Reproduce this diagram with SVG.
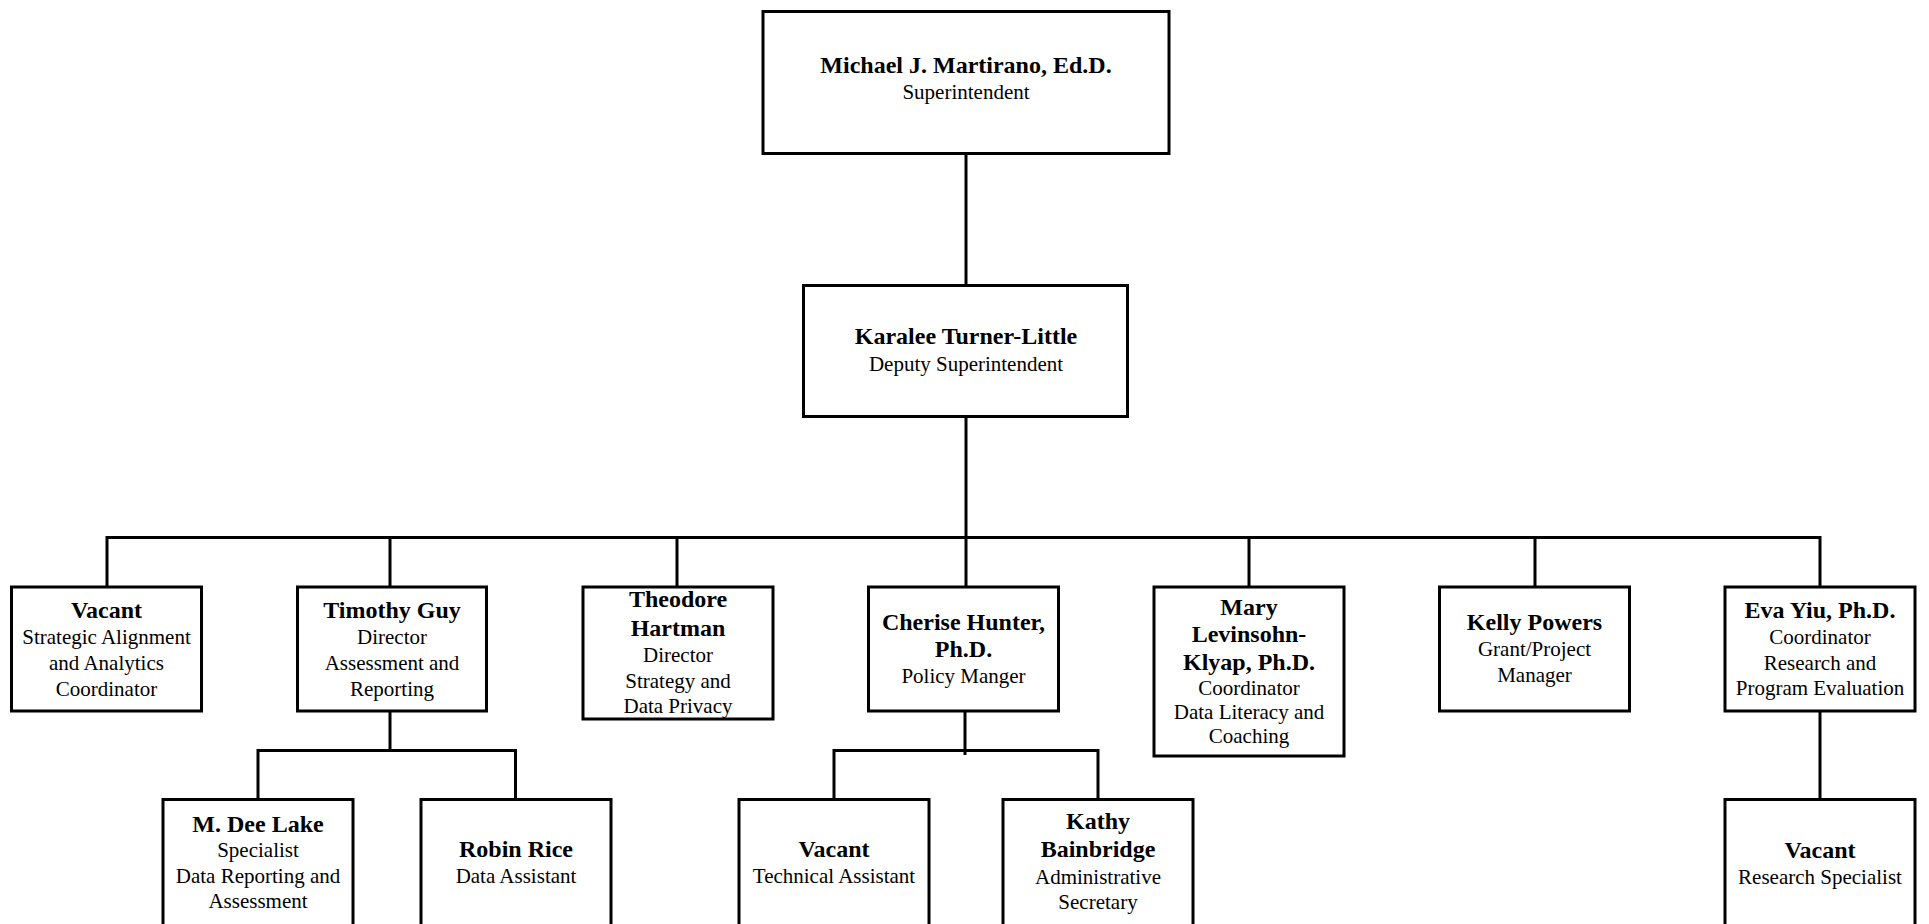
<svg xmlns="http://www.w3.org/2000/svg" width="1929" height="924" viewBox="0 0 1929 924">
<style>
.box{fill:#fff;stroke:#000;stroke-width:3}
.ln{fill:none;stroke:#000;stroke-width:3}
text{font-family:"Liberation Serif","Times New Roman",serif;text-anchor:middle;fill:#000}
.b{font-weight:bold;font-size:24px}
.r{font-size:21px}
</style>
<rect width="1929" height="924" fill="#fff"/>
<g id="connectors">
<path class="ln" d="M966,154V285"/>
<path class="ln" d="M966,417V537.5"/>
<path class="ln" d="M107,587V537.5H1820V587"/>
<path class="ln" d="M390,537.5V587M677,537.5V587M966,537.5V587M1249,537.5V587M1535,537.5V587"/>
<path class="ln" d="M390,711V750.5"/>
<path class="ln" d="M258,800V750.5H515.5V800"/>
<path class="ln" d="M965,711V755"/>
<path class="ln" d="M834,800V750.5H1098V800"/>
<path class="ln" d="M1820,711V800"/>
</g>
<g id="n-martirano">
<rect class="box" x="763" y="11.5" width="406" height="142"/>
<text class="b" x="966" y="73">Michael J. Martirano, Ed.D.</text>
<text class="r" x="966" y="99">Superintendent</text>
</g>
<g id="n-turner-little">
<rect class="box" x="803.5" y="285.5" width="324" height="131"/>
<text class="b" x="966" y="344">Karalee Turner-Little</text>
<text class="r" x="966" y="371">Deputy Superintendent</text>
</g>
<g id="n-vacant-saa">
<rect class="box" x="11.5" y="587" width="190" height="124"/>
<text class="b" x="106.5" y="618">Vacant</text>
<text class="r" x="106.5" y="644">Strategic Alignment</text>
<text class="r" x="106.5" y="670">and Analytics</text>
<text class="r" x="106.5" y="696">Coordinator</text>
</g>
<g id="n-guy">
<rect class="box" x="297.5" y="587" width="189" height="124"/>
<text class="b" x="392" y="618">Timothy Guy</text>
<text class="r" x="392" y="644">Director</text>
<text class="r" x="392" y="670">Assessment and</text>
<text class="r" x="392" y="696">Reporting</text>
</g>
<g id="n-hartman">
<rect class="box" x="583" y="587" width="190" height="132"/>
<text class="b" x="678" y="607">Theodore</text>
<text class="b" x="678" y="636">Hartman</text>
<text class="r" x="678" y="662">Director</text>
<text class="r" x="678" y="687.5">Strategy and</text>
<text class="r" x="678" y="713">Data Privacy</text>
</g>
<g id="n-hunter">
<rect class="box" x="868.5" y="587" width="190" height="124"/>
<text class="b" x="963.5" y="630">Cherise Hunter,</text>
<text class="b" x="963.5" y="657">Ph.D.</text>
<text class="r" x="963.5" y="683">Policy Manger</text>
</g>
<g id="n-levinsohn-klyap">
<rect class="box" x="1154" y="587" width="190" height="169"/>
<text class="b" x="1249" y="615">Mary</text>
<text class="b" x="1249" y="642">Levinsohn-</text>
<text class="b" x="1249" y="670">Klyap, Ph.D.</text>
<text class="r" x="1249" y="695">Coordinator</text>
<text class="r" x="1249" y="719">Data Literacy and</text>
<text class="r" x="1249" y="743">Coaching</text>
</g>
<g id="n-powers">
<rect class="box" x="1439.5" y="587" width="190" height="124"/>
<text class="b" x="1534.5" y="630">Kelly Powers</text>
<text class="r" x="1534.5" y="656">Grant/Project</text>
<text class="r" x="1534.5" y="682">Manager</text>
</g>
<g id="n-yiu">
<rect class="box" x="1725" y="587" width="190" height="124"/>
<text class="b" x="1820" y="617.5">Eva Yiu, Ph.D.</text>
<text class="r" x="1820" y="643.5">Coordinator</text>
<text class="r" x="1820" y="669.5">Research and</text>
<text class="r" x="1820" y="695">Program Evaluation</text>
</g>
<g id="n-lake">
<rect class="box" x="163" y="799.5" width="190" height="200"/>
<text class="b" x="258" y="831.5">M. Dee Lake</text>
<text class="r" x="258" y="857">Specialist</text>
<text class="r" x="258" y="883">Data Reporting and</text>
<text class="r" x="258" y="908">Assessment</text>
</g>
<g id="n-rice">
<rect class="box" x="421" y="799.5" width="190" height="200"/>
<text class="b" x="516" y="857">Robin Rice</text>
<text class="r" x="516" y="883">Data Assistant</text>
</g>
<g id="n-vacant-ta">
<rect class="box" x="739" y="799.5" width="190" height="200"/>
<text class="b" x="834" y="857">Vacant</text>
<text class="r" x="834" y="883">Technical Assistant</text>
</g>
<g id="n-bainbridge">
<rect class="box" x="1003" y="799.5" width="190" height="200"/>
<text class="b" x="1098" y="828.5">Kathy</text>
<text class="b" x="1098" y="857">Bainbridge</text>
<text class="r" x="1098" y="884">Administrative</text>
<text class="r" x="1098" y="909">Secretary</text>
</g>
<g id="n-vacant-rs">
<rect class="box" x="1725" y="799.5" width="190" height="200"/>
<text class="b" x="1820" y="857.5">Vacant</text>
<text class="r" x="1820" y="883.5">Research Specialist</text>
</g>
</svg>
